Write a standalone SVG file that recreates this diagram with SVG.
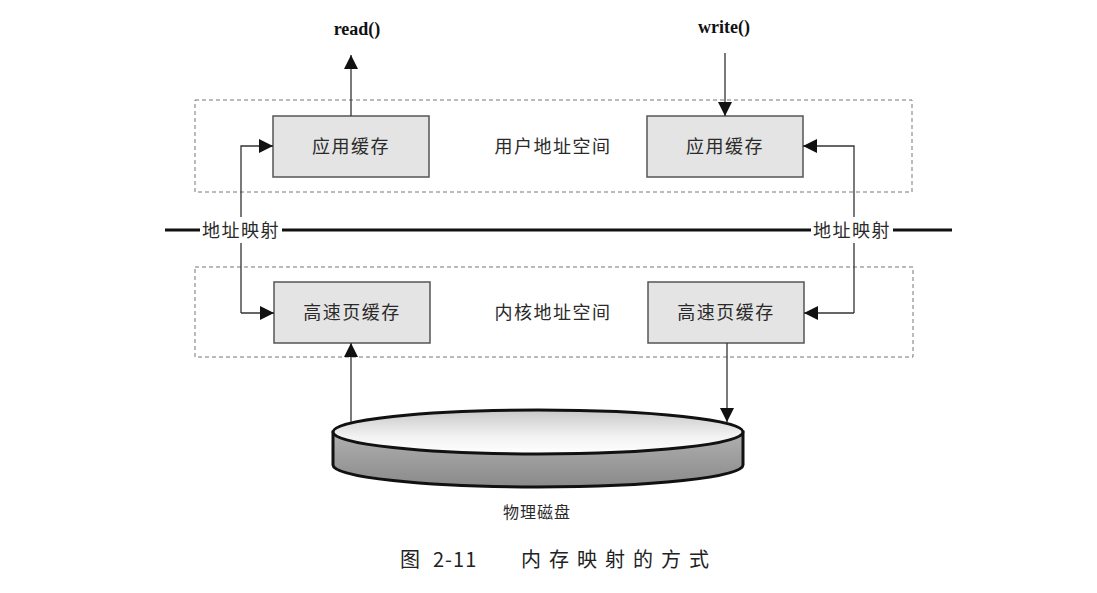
<svg xmlns="http://www.w3.org/2000/svg" width="1097" height="593" viewBox="0 0 1097 593">
<style>
.cjk{font-family:"Noto Sans CJK SC","Noto Sans",sans-serif;font-size:18px;letter-spacing:1.5px;fill:#2a2a2a;text-anchor:middle}
.fn{font-family:"Liberation Serif",serif;font-size:18px;font-weight:bold;fill:#111;text-anchor:middle}
.box{fill:#e4e4e4;stroke:#555;stroke-width:1.5}
.zone{fill:none;stroke:#777;stroke-width:1;stroke-dasharray:4 3}
.conn{fill:none;stroke:#333;stroke-width:1.3}
.cap{font-family:"Noto Sans CJK SC",sans-serif;font-size:20px;fill:#222}
</style>
<defs>
<marker id="ahb" viewBox="0 0 10 10" refX="10" refY="5" markerWidth="14" markerHeight="14" markerUnits="userSpaceOnUse" orient="auto">
<path d="M0,0 L10,5 L0,10 z" fill="#111"/>
</marker>
<linearGradient id="top" x1="0" y1="0" x2="0" y2="1">
<stop offset="0" stop-color="#c8c8c8"/>
<stop offset="0.6" stop-color="#f2f2f2"/>
<stop offset="1" stop-color="#ffffff"/>
</linearGradient>
<linearGradient id="side" x1="0" y1="0" x2="0" y2="1">
<stop offset="0" stop-color="#b0b0b0"/>
<stop offset="1" stop-color="#8a8a8a"/>
</linearGradient>
</defs>
<rect width="1097" height="593" fill="#fff"/>

<g id="user-space">
<rect class="zone" x="195" y="100" width="717" height="92"/>
<text class="cjk" x="553" y="153">用户地址空间</text>
</g>
<g id="kernel-space">
<rect class="zone" x="195" y="267" width="718" height="90"/>
<text class="cjk" x="553" y="319">内核地址空间</text>
</g>

<g id="app-buf-left">
<rect class="box" x="273" y="116" width="156" height="61"/>
<text class="cjk" x="351" y="153">应用缓存</text>
</g>
<g id="app-buf-right">
<rect class="box" x="647" y="116" width="156" height="61"/>
<text class="cjk" x="725" y="153">应用缓存</text>
</g>
<g id="page-cache-left">
<rect class="box" x="274" y="282" width="156" height="61"/>
<text class="cjk" x="352" y="319">高速页缓存</text>
</g>
<g id="page-cache-right">
<rect class="box" x="648" y="282" width="156" height="61"/>
<text class="cjk" x="726" y="319">高速页缓存</text>
</g>

<g id="read-label"><text class="fn" x="357" y="35">read()</text></g>
<g id="write-label"><text class="fn" x="724" y="33">write()</text></g>

<g id="disk">
<path d="M333,432 L333,465 A205,22 0 0 0 743,465 L743,432 Z" fill="url(#side)" stroke="#111" stroke-width="3"/>
<ellipse cx="538" cy="432" rx="205" ry="22" fill="url(#top)" stroke="#111" stroke-width="3"/>
<text class="cjk" x="537" y="518" style="font-size:16px;letter-spacing:1px">物理磁盘</text>
</g>

<g id="connectors">
<line class="conn" x1="351" y1="116" x2="351" y2="55" marker-end="url(#ahb)"/>
<line class="conn" x1="725" y1="53" x2="725" y2="116" marker-end="url(#ahb)"/>
<polyline class="conn" points="241,313 241,146 273,146" marker-end="url(#ahb)"/>
<line class="conn" x1="241" y1="313" x2="274" y2="313" marker-end="url(#ahb)"/>
<polyline class="conn" points="854,313 854,146 803,146" marker-end="url(#ahb)"/>
<line class="conn" x1="854" y1="313" x2="804" y2="313" marker-end="url(#ahb)"/>
<line class="conn" x1="351" y1="422" x2="351" y2="343" marker-end="url(#ahb)"/>
<line class="conn" x1="727" y1="343" x2="727" y2="422" marker-end="url(#ahb)"/>
</g>

<g id="mapping-line">
<line x1="165" y1="230" x2="952" y2="230" stroke="#111" stroke-width="3"/>
<rect x="200" y="217" width="82" height="26" fill="#fff"/>
<rect x="811" y="217" width="82" height="26" fill="#fff"/>
<text class="cjk" x="241" y="237">地址映射</text>
<text class="cjk" x="852" y="237">地址映射</text>
</g>

<g id="caption">
<text class="cap" x="400" y="567">图</text>
<text class="cap" x="433" y="567" style="letter-spacing:1px">2-11</text>
<text class="cap" x="521" y="567" style="letter-spacing:8px">内存映射的方式</text>
</g>
</svg>
